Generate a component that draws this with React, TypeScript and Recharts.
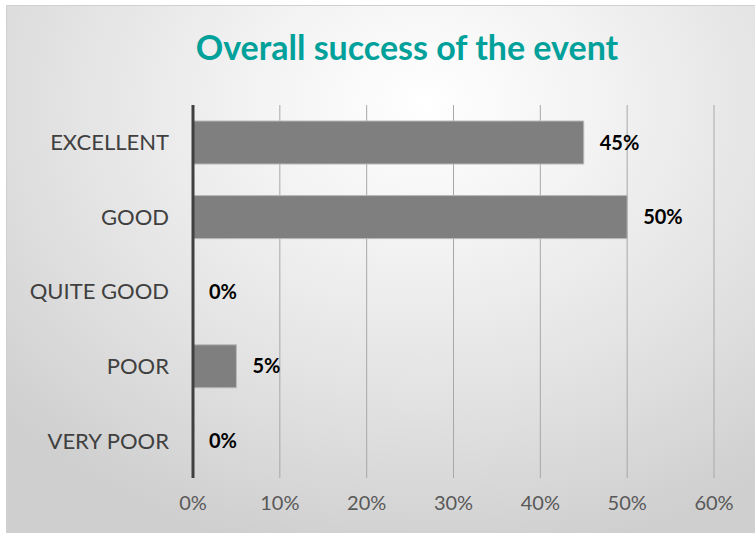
import { BarChart, Bar, XAxis, YAxis, CartesianGrid, LabelList, Cell } from 'recharts';

const categories = ['EXCELLENT', 'GOOD', 'QUITE GOOD', 'POOR', 'VERY POOR'];
const shares = [45, 50, 0, 5, 0];
const xTicks = [0, 10, 20, 30, 40, 50, 60];

const data = categories.map((name, i) => ({ name, value: shares[i] }));

export default function App() {
    return (
        <div style={{ position: 'absolute', left: 0, top: 0, width: 755, height: 533, background: '#ffffff', overflow: 'hidden' }}>
            <div
                style={{
                    position: 'absolute',
                    left: 6,
                    top: 5,
                    width: 760,
                    height: 540,
                    border: '1px solid #d0d0d0',
                    background: 'radial-gradient(ellipse 75% 85% at 55% 18%, #ffffff 0%, #f3f3f3 30%, #e2e2e2 65%, #cfcfcf 100%)',
                }}
            >
                <div
                    style={{
                        position: 'absolute',
                        left: 0,
                        width: 800,
                        top: 20,
                        textAlign: 'center',
                        fontFamily: 'Lato, sans-serif',
                        fontWeight: 'bold',
                        fontSize: 34,
                        color: '#00a19a',
                    }}
                >
                    Overall success of the event
                </div>
                <div style={{ position: 'absolute', left: 0, top: 0 }}>
                    <BarChart
                        width={748}
                        height={527}
                        data={data}
                        layout="vertical"
                        margin={{ top: 99, right: 41, left: 0, bottom: 25 }}
                        barSize={43}
                    >
                        <CartesianGrid horizontal={false} stroke="#a8a8a8" strokeWidth={1} />
                        <XAxis
                            type="number"
                            domain={[0, 60]}
                            ticks={xTicks}
                            tickFormatter={(v) => `${v}%`}
                            axisLine={false}
                            tickLine={false}
                            tickSize={0}
                            tickMargin={18}
                            height={30}
                            tick={{ fontSize: 20, fill: '#595959', fontFamily: 'Lato, sans-serif' }}
                        />
                        <YAxis
                            type="category"
                            dataKey="name"
                            width={186}
                            axisLine={{ stroke: '#404040', strokeWidth: 3 }}
                            tickLine={false}
                            tickSize={0}
                            tickMargin={24}
                            tick={{ fontSize: 22, fill: '#404040', fontFamily: 'Lato, sans-serif' }}
                        />
                        <Bar dataKey="value" fill="#7f7f7f" strokeWidth={1} minPointSize={0.01} isAnimationActive={false}>
                            {data.map((d, i) => (
                                <Cell key={i} stroke={d.value > 0 ? '#b8b8b8' : 'none'} fill={d.value > 0 ? '#7f7f7f' : 'none'} />
                            ))}
                            <LabelList
                                dataKey="value"
                                position="right"
                                offset={16}
                                formatter={(v: any) => `${v}%`}
                                style={{ fontSize: 20, fontWeight: 'bold', fill: '#000000', fontFamily: 'Lato, sans-serif' }}
                            />
                        </Bar>
                    </BarChart>
                </div>
            </div>
        </div>
    );
}
